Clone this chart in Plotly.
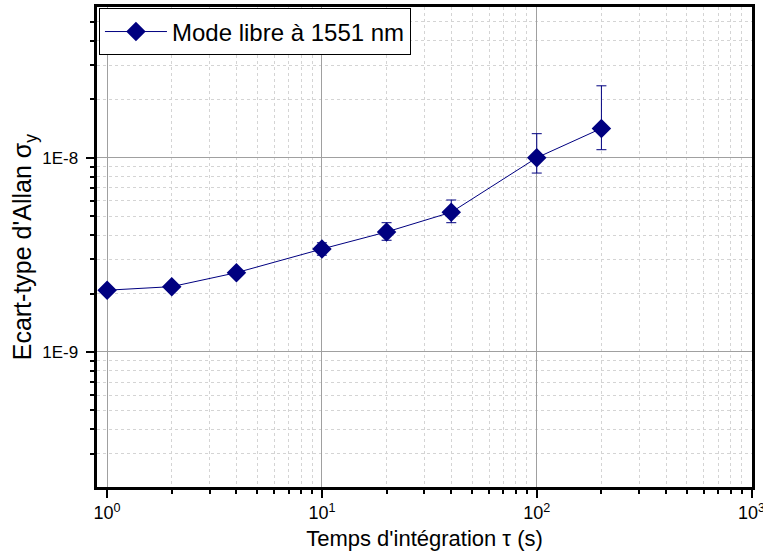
import plotly.graph_objects as go

tau = [1, 2, 4, 10, 20, 40, 100, 200]
sigma = [2.08e-9, 2.17e-9, 2.56e-9, 3.39e-9, 4.15e-9, 5.24e-9, 1.0e-8, 1.416e-8]
err_plus = [0.05e-9, 0.05e-9, 0.06e-9, 0.26e-9, 0.48e-9, 0.82e-9, 0.33e-8, 0.93e-8]
err_minus = [0.05e-9, 0.05e-9, 0.06e-9, 0.24e-9, 0.39e-9, 0.61e-9, 0.166e-8, 0.316e-8]
series_name = "Mode libre à 1551 nm"

x_tickvals = [1, 10, 100, 1000]
x_ticktext = ["10<sup>0</sup>", "10<sup>1</sup>", "10<sup>2</sup>", "10<sup>3</sup>"]
x_minor = [m * d for d in (1, 10, 100) for m in range(2, 10)]
y_tickvals = [1e-9, 1e-8]
y_ticktext = ["1E-9\u00a0", "1E-8\u00a0"]
y_minor = [m * d for d in (1e-10, 1e-9, 1e-8) for m in range(2, 10)]
x_title = "Temps d'intégration τ (s)"
y_title = "Ecart-type d'Allan σ<sub>y</sub>"

navy = "#000080"
font_family = "Liberation Sans, Arial, sans-serif"

fig = go.Figure()
fig.add_trace(go.Scatter(
    x=tau, y=sigma, name=series_name, mode="lines+markers",
    line=dict(color=navy, width=1),
    marker=dict(symbol="diamond", size=15, color=navy),
    error_y=dict(type="data", symmetric=False, array=err_plus, arrayminus=err_minus,
                 color=navy, thickness=1, width=5),
))

axis_common = dict(
    showline=True, linecolor="black", linewidth=2.5, mirror=True,
    ticks="outside", ticklen=8, tickwidth=1.5, tickcolor="black",
    showgrid=True, gridcolor="#a0a0a0", gridwidth=1,
    zeroline=False, automargin=False, ticklabeloverflow="allow",
)
minor_common = dict(ticks="outside", ticklen=4, tickwidth=1.5, tickcolor="black",
                    showgrid=True, gridcolor="#d4d4d4", griddash="dot", gridwidth=1)

fig.update_xaxes(
    type="log", range=[-0.047, 3.002],
    tickmode="array", tickvals=x_tickvals, ticktext=x_ticktext,
    tickfont=dict(family=font_family, size=18, color="black"),
    title=dict(text=x_title, font=dict(family=font_family, size=22, color="black")),
    minor=dict(tickmode="array", tickvals=x_minor, **minor_common),
    **axis_common,
)
fig.update_yaxes(
    type="log", range=[-9.695, -7.224],
    tickmode="array", tickvals=y_tickvals, ticktext=y_ticktext,
    tickfont=dict(family=font_family, size=17, color="black"),
    minor=dict(tickmode="array", tickvals=y_minor, **minor_common),
    **axis_common,
)

fig.add_annotation(
    text=y_title, textangle=-90, xref="paper", yref="paper",
    x=-0.111, y=0.5, xanchor="center", yanchor="middle", showarrow=False,
    font=dict(family=font_family, size=25, color="black"),
)

fig.update_layout(
    width=763, height=551,
    margin=dict(l=97, r=11, t=7, b=64),
    paper_bgcolor="white", plot_bgcolor="white",
    showlegend=True,
    legend=dict(x=0.003, y=0.997, xanchor="left", yanchor="top",
                bgcolor="white", bordercolor="black", borderwidth=1, itemwidth=62,
                font=dict(family=font_family, size=24, color="black")),
)

fig.write_html("out.html", config={"displayModeBar": False},
               post_script="document.body.style.margin='0';")
